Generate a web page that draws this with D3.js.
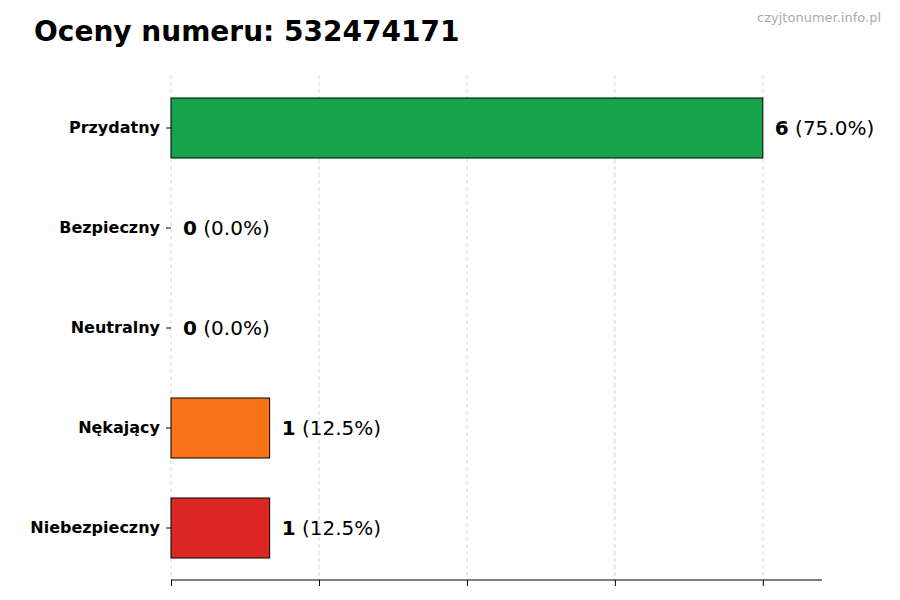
<!DOCTYPE html>
<html><head><meta charset="utf-8">
<script src="https://cdn.jsdelivr.net/npm/d3@7"></script>
<style>body{margin:0;background:#fff}</style>
</head><body>
<svg id="chart" width="900" height="600"></svg>
<script>
const categories = ["Przydatny", "Bezpieczny", "Neutralny", "Nękający", "Niebezpieczny"];
const counts = [6, 0, 0, 1, 1];
const percents = ["75.0%", "0.0%", "0.0%", "12.5%", "12.5%"];
const colors = ["#16a34a", "#16a34a", "#9ca3af", "#f97316", "#dc2626"];
const xTicks = [0, 1.5, 3, 4.5, 6];

const svg = d3.select("#chart");
const font = "DejaVu Sans, sans-serif";

const x = d3.scaleLinear().domain([0, 6.6]).range([171, 822]);
const y = d3.scaleBand().domain(categories).range([78, 578]).paddingInner(0.4).paddingOuter(0.2);

svg.append("text").attr("x", 34).attr("y", 41)
  .attr("font-family", font).attr("font-size", 28).attr("font-weight", "bold")
  .text("Oceny numeru: 532474171");
svg.append("text").attr("x", 881).attr("y", 22).attr("text-anchor", "end")
  .attr("font-family", font).attr("font-size", 13).attr("fill", "#aaa")
  .text("czyjtonumer.info.pl");

// grid
svg.append("g").selectAll("line").data(xTicks).join("line")
  .attr("x1", d => x(d)).attr("x2", d => x(d))
  .attr("y1", 75).attr("y2", 580)
  .attr("stroke", "#ccc").attr("stroke-dasharray", "4,3").attr("stroke-width", 0.8);

// bars
svg.append("g").selectAll("rect").data(categories).join("rect")
  .attr("x", x(0)).attr("y", d => y(d))
  .attr("width", (d, i) => x(counts[i]) - x(0)).attr("height", y.bandwidth())
  .attr("fill", (d, i) => colors[i]).attr("stroke", "#000").attr("stroke-width", 1);

// value labels
const lab = svg.append("g").selectAll("text").data(categories).join("text")
  .attr("x", (d, i) => x(counts[i]) + 12).attr("y", d => y(d) + y.bandwidth() / 2 + 7)
  .attr("font-family", font).attr("font-size", 20);
lab.append("tspan").attr("font-weight", "bold").text((d, i) => counts[i]);
lab.append("tspan").text((d, i) => " (" + percents[i] + ")");

// axes
const xAxis = svg.append("g").attr("transform", "translate(0,580)")
  .call(d3.axisBottom(x).tickValues(xTicks).tickFormat("").tickSizeOuter(0));
xAxis.select(".domain").attr("d", "M171,0H822");

const yAxis = svg.append("g").attr("transform", "translate(171,0)")
  .call(d3.axisLeft(y).tickSize(5).tickPadding(6));
yAxis.select(".domain").remove();
yAxis.selectAll("text").attr("font-family", font).attr("font-size", 16)
  .attr("font-weight", "bold").attr("fill", "#000");
</script>
</body></html>
